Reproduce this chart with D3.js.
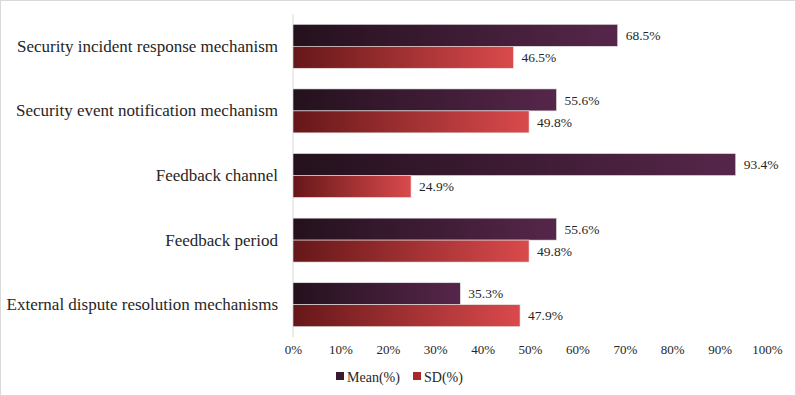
<!DOCTYPE html>
<html lang="en">
<head>
  <meta charset="UTF-8">
  <title>Mean and SD bar chart</title>
  <script src="https://d3js.org/d3.v7.min.js"></script>
  <style>
    body { margin: 0; background: #fff; }
    svg text { fill: #262626; font-family: 'Liberation Serif', 'Times New Roman', Times, serif !important; }
  </style>
</head>
<body>
  <div id="chart"></div>
  <script>
    const categories = [
      "Security incident response mechanism",
      "Security event notification mechanism",
      "Feedback channel",
      "Feedback period",
      "External dispute resolution mechanisms"
    ];
    const meanValues = [68.5, 55.6, 93.4, 55.6, 35.3];
    const sdValues = [46.5, 49.8, 24.9, 49.8, 47.9];
    const tickValues = [0, 10, 20, 30, 40, 50, 60, 70, 80, 90, 100];
    const seriesNames = ["Mean(%)", "SD(%)"];

    const W = 796, H = 396;
    const margin = { top: 14, right: 29, bottom: 59, left: 293 };
    const width = W - margin.left - margin.right;
    const height = H - margin.top - margin.bottom;

    const svg = d3.select("#chart").append("svg")
      .attr("width", W)
      .attr("height", H)
      .attr("font-family", "Liberation Serif, serif");

    // Gradients for the two series
    const defs = svg.append("defs");
    const grads = [
      { id: "gMean", from: "#24111d", to: "#56264a" },
      { id: "gSD", from: "#661719", to: "#da4a4c" }
    ];
    grads.forEach(g => {
      const lg = defs.append("linearGradient").attr("id", g.id)
        .attr("x1", "0%").attr("x2", "100%").attr("y1", "0%").attr("y2", "0%");
      lg.append("stop").attr("offset", "0%").attr("stop-color", g.from);
      lg.append("stop").attr("offset", "100%").attr("stop-color", g.to);
    });

    // outer border
    svg.append("rect")
      .attr("x", 0.5).attr("y", 0.5)
      .attr("width", W - 1).attr("height", H - 1)
      .attr("fill", "none").attr("stroke", "#d9d9d9");

    const g = svg.append("g").attr("transform", `translate(${margin.left},${margin.top})`);

    const x = d3.scaleLinear().domain([0, 100]).range([0, width]);
    const y = d3.scaleBand().domain(categories).range([0, height]).paddingInner(0.32).paddingOuter(0.16);
    const ySub = d3.scaleBand().domain(seriesNames).range([0, y.bandwidth()]);

    // x axis (labels only)
    const xAxis = g.append("g")
      .attr("transform", `translate(0,${height})`)
      .call(d3.axisBottom(x).tickValues(tickValues).tickFormat(d => d + "%").tickSize(0).tickPadding(8));
    xAxis.select(".domain").remove();
    xAxis.attr("font-family", null);
    xAxis.selectAll("text").style("font-size", "13px");

    // y axis line
    g.append("line")
      .attr("x1", 0).attr("x2", 0).attr("y1", 0).attr("y2", height)
      .attr("stroke", "#d9d9d9");

    const yAxis = g.append("g")
      .call(d3.axisLeft(y).tickSize(0).tickPadding(15));
    yAxis.select(".domain").remove();
    yAxis.attr("font-family", null);
    yAxis.selectAll("text").style("font-size", "17px");

    const rows = categories.map((c, i) => ({ cat: c, vals: [meanValues[i], sdValues[i]] }));

    const groups = g.selectAll(".row").data(rows).enter().append("g")
      .attr("transform", d => `translate(0,${y(d.cat)})`);

    groups.selectAll("rect").data(d => d.vals.map((v, j) => ({ v, s: seriesNames[j], j })))
      .enter().append("rect")
      .attr("x", 0)
      .attr("y", d => ySub(d.s))
      .attr("width", d => x(d.v))
      .attr("height", ySub.bandwidth())
      .attr("fill", d => d.j === 0 ? "url(#gMean)" : "url(#gSD)")
      .attr("stroke", "#e6e6e6")
      .attr("stroke-width", 0.6);

    groups.selectAll("text.val").data(d => d.vals.map((v, j) => ({ v, s: seriesNames[j] })))
      .enter().append("text")
      .attr("class", "val")
      .attr("x", d => x(d.v) + 8)
      .attr("y", d => ySub(d.s) + ySub.bandwidth() / 2)
      .attr("dy", "0.35em")
      .style("font-size", "13.5px")
      .text(d => d.v.toFixed(1) + "%");

    // legend
    const legend = svg.append("g").attr("transform", `translate(336,377)`);
    seriesNames.forEach((name, i) => {
      const lx = i === 0 ? 0 : 77;
      legend.append("rect")
        .attr("x", lx).attr("y", -5).attr("width", 8).attr("height", 8)
        .attr("fill", i === 0 ? "#3a1830" : "#a8282c");
      legend.append("text")
        .attr("x", lx + 11).attr("y", 0).attr("dy", "0.35em")
        .style("font-size", "14px")
        .text(name);
    });
  </script>
</body>
</html>
